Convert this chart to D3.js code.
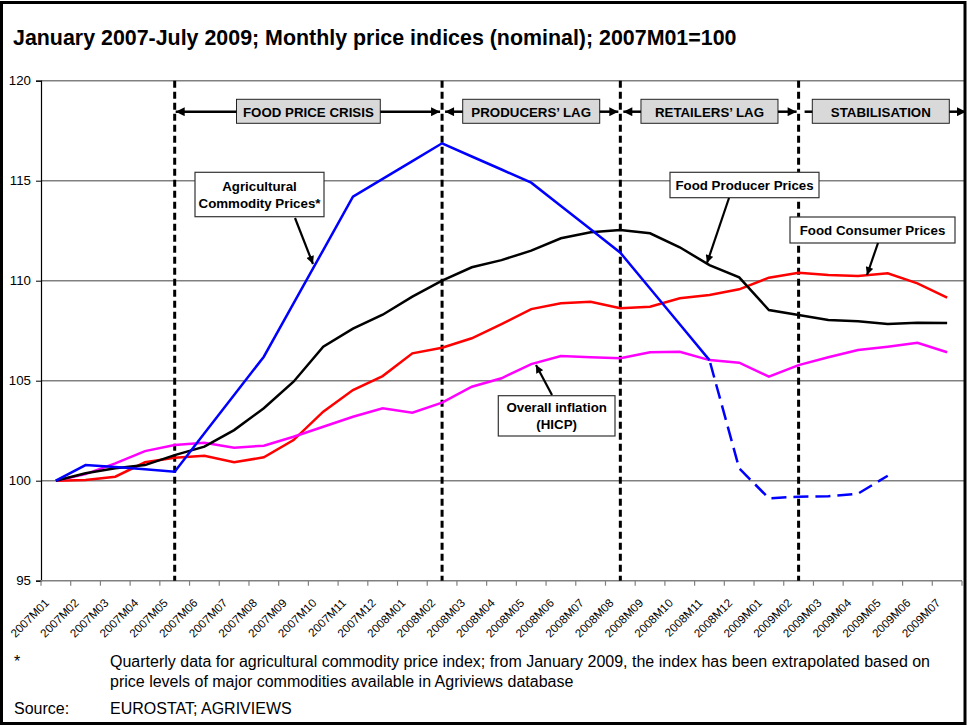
<!DOCTYPE html>
<html>
<head>
<meta charset="utf-8">
<script src="https://cdn.jsdelivr.net/npm/d3@7"></script>
<style>
  body { margin: 0; background: #fff; }
  svg { display: block; font-family: "Liberation Sans", Arial, sans-serif; }
</style>
</head>
<body>
<svg id="chart" width="967" height="726"></svg>
<script>
// Chart data
const months = [
    "2007M01", "2007M02", "2007M03", "2007M04", "2007M05", "2007M06", "2007M07", "2007M08",
    "2007M09", "2007M10", "2007M11", "2007M12", "2008M01", "2008M02", "2008M03", "2008M04",
    "2008M05", "2008M06", "2008M07", "2008M08", "2008M09", "2008M10", "2008M11", "2008M12",
    "2009M01", "2009M02", "2009M03", "2009M04", "2009M05", "2009M06", "2009M07"
];

// Agricultural commodity prices (quarterly, extrapolated from 2009)
const agriPrices = [
    100, 100.78, 100.68, 100.57, 100.45, 102.37, 104.28, 106.2,
    108.87, 111.53, 114.2, 115.09, 115.98, 116.87, 116.21, 115.56,
    114.9, 113.73, 112.57, 111.4, 109.61, 107.82, 106.03, 100.62,
    99.12, 99.2, 99.22, 99.35, 100.25, null, null
];
const agriExtrapolatedFrom = "2008M11";

const producerPrices = [
    100, 100.37, 100.62, 100.78, 101.28, 101.7, 102.53, 103.62,
    104.95, 106.7, 107.6, 108.3, 109.2, 110.0, 110.67, 111.03,
    111.5, 112.12, 112.42, 112.53, 112.37, 111.67, 110.78, 110.17,
    108.53, 108.28, 108.03, 107.97, 107.83, 107.9, 107.88
];

const consumerPrices = [
    100, 100.03, 100.2, 100.92, 101.15, 101.25, 100.92, 101.17,
    102.03, 103.45, 104.53, 105.23, 106.37, 106.65, 107.12, 107.83,
    108.58, 108.87, 108.95, 108.62, 108.7, 109.12, 109.28, 109.57,
    110.15, 110.4, 110.28, 110.23, 110.37, 109.87, 109.15
];

const hicp = [
    100, 100.33, 100.87, 101.48, 101.78, 101.9, 101.65, 101.75,
    102.2, 102.7, 103.2, 103.62, 103.4, 103.9, 104.7, 105.12,
    105.83, 106.23, 106.17, 106.12, 106.42, 106.45, 106.03, 105.9,
    105.2, 105.78, 106.17, 106.53, 106.7, 106.9, 106.42
];

const yTicks = [95, 100, 105, 110, 115, 120];

// Phases: names and the months where the dashed separators sit
const phaseNames = ["FOOD PRICE CRISIS", "PRODUCERS\u2019 LAG", "RETAILERS\u2019 LAG", "STABILISATION"];
const phaseBreaks = ["2007M05", "2008M02", "2008M08", "2009M02"];

const titleText = "January 2007-July 2009; Monthly price indices (nominal); 2007M01=100";
const footnoteLines = [
    "Quarterly data for agricultural commodity price index; from January 2009, the index has been extrapolated based on",
    "price levels of major commodities available in Agriviews database"
];
const sourceText = "EUROSTAT; AGRIVIEWS";

// Set up
const svg = d3.select("#chart");
const width = +svg.attr("width");
const height = +svg.attr("height");

const plotLeft = 41, plotRight = 962, plotTop = 80.7, plotBottom = 580.7;

const x = d3.scaleBand().domain(months).range([plotLeft, plotRight]);
const cx = m => x(m) + x.bandwidth() / 2;
const y = d3.scaleLinear().domain([95, 120]).range([plotBottom, plotTop]);

// arrowhead marker
const defs = svg.append("defs");
defs.append("marker")
    .attr("id", "head")
    .attr("viewBox", "0 0 10 10")
    .attr("refX", 10).attr("refY", 5)
    .attr("markerWidth", 4).attr("markerHeight", 3.6)
    .attr("markerUnits", "strokeWidth")
    .attr("orient", "auto")
    .append("path").attr("d", "M0,0 L10,5 L0,10 Z").attr("fill", "#000");

svg.append("rect")
    .attr("x", 0).attr("y", 0).attr("width", width).attr("height", height)
    .attr("fill", "#fff");

// Title
svg.append("text")
    .attr("x", 13).attr("y", 45)
    .attr("font-size", "21.4px").attr("font-weight", "bold")
    .text(titleText);

// Gridlines
svg.append("g").selectAll("line")
    .data(yTicks.filter(t => t > 95))
    .enter().append("line")
    .attr("x1", plotLeft).attr("x2", plotRight + 3)
    .attr("y1", d => y(d)).attr("y2", d => y(d))
    .attr("stroke", "#808080").attr("stroke-width", 1.5);

// Y axis
const yAxis = svg.append("g")
    .attr("transform", `translate(${plotLeft},0)`)
    .call(d3.axisLeft(y).tickValues(yTicks).tickSize(5).tickPadding(5));
yAxis.select(".domain").attr("stroke", "#000").attr("stroke-width", 1.2);
yAxis.selectAll(".tick line").attr("stroke", "#000");
yAxis.selectAll(".tick text")
    .attr("font-size", "13.3px")
    .attr("font-family", "Liberation Sans, Arial, sans-serif")
    .attr("fill", "#000");

// X axis (ticks at band boundaries)
const xAxisG = svg.append("g");
xAxisG.append("line")
    .attr("x1", plotLeft).attr("x2", plotRight)
    .attr("y1", plotBottom).attr("y2", plotBottom)
    .attr("stroke", "#808080").attr("stroke-width", 1.5);
xAxisG.selectAll(".xtick")
    .data(months.concat(["end"]))
    .enter().append("line")
    .attr("class", "xtick")
    .attr("x1", d => d === "end" ? plotRight : x(d))
    .attr("x2", d => d === "end" ? plotRight : x(d))
    .attr("y1", plotBottom).attr("y2", plotBottom + 5)
    .attr("stroke", "#808080").attr("stroke-width", 1.2);
xAxisG.selectAll(".xlabel")
    .data(months)
    .enter().append("text")
    .attr("class", "xlabel")
    .attr("text-anchor", "end")
    .attr("font-size", "11.7px")
    .attr("transform", d => `translate(${cx(d) - 6},${plotBottom + 23}) rotate(-45)`)
    .text(d => d);

// Phase separators
svg.append("g").selectAll("line")
    .data(phaseBreaks)
    .enter().append("line")
    .attr("x1", d => cx(d)).attr("x2", d => cx(d))
    .attr("y1", plotTop).attr("y2", plotBottom)
    .attr("stroke", "#000").attr("stroke-width", 3)
    .attr("stroke-dasharray", "7,4");

// Phase labels with arrows
const phaseY = 111.7;
const phaseG = svg.append("g");
phaseNames.forEach((name, i) => {
    const left = cx(phaseBreaks[i]);
    const right = i < phaseBreaks.length - 1 ? cx(phaseBreaks[i + 1]) : 967;
    const mid = (left + right) / 2 - (i === 3 ? 2 : 0);
    const t = phaseG.append("text")
        .attr("x", mid).attr("y", phaseY + 4.8)
        .attr("text-anchor", "middle")
        .attr("font-size", "13.3px").attr("font-weight", "bold")
        .text(name);
    const tw = t.node().getComputedTextLength();
    const bw = Math.max(tw + 13, 137);
    const bx = mid - bw / 2;
    phaseG.insert("rect", "text")
        .attr("x", bx).attr("y", 99.3).attr("width", bw).attr("height", 24)
        .attr("fill", "#d9d9d9").attr("stroke", "#222").attr("stroke-width", 1);
    // left arrow
    if (i < 3) {
        phaseG.append("line")
            .attr("x1", bx).attr("x2", left + (i === 0 ? 1 : 3))
            .attr("y1", phaseY).attr("y2", phaseY)
            .attr("stroke", "#000").attr("stroke-width", 2.5)
            .attr("marker-end", "url(#head)");
    } else {
        phaseG.append("line")
            .attr("x1", bx).attr("x2", left + 6)
            .attr("y1", phaseY).attr("y2", phaseY)
            .attr("stroke", "#000").attr("stroke-width", 2.5);
    }
    // right arrow
    phaseG.append("line")
        .attr("x1", bx + bw).attr("x2", i < 3 ? right - 2 : 966)
        .attr("y1", phaseY).attr("y2", phaseY)
        .attr("stroke", "#000").attr("stroke-width", 2.5)
        .attr("marker-end", "url(#head)");
});

// Series lines
const line = d3.line()
    .defined(d => d.v != null)
    .x(d => cx(d.m))
    .y(d => y(d.v));
const toPts = arr => arr.map((v, i) => ({ m: months[i], v }));

const splitIdx = months.indexOf(agriExtrapolatedFrom);
const agriPts = toPts(agriPrices);

const seriesG = svg.append("g");
seriesG.append("path")
    .datum(toPts(consumerPrices))
    .attr("d", line).attr("fill", "none")
    .attr("stroke", "#ff0000").attr("stroke-width", 2.5);
seriesG.append("path")
    .datum(toPts(hicp))
    .attr("d", line).attr("fill", "none")
    .attr("stroke", "#ff00ff").attr("stroke-width", 2.5);
seriesG.append("path")
    .datum(toPts(producerPrices))
    .attr("d", line).attr("fill", "none")
    .attr("stroke", "#000").attr("stroke-width", 2.5);
seriesG.append("path")
    .datum(agriPts.slice(0, splitIdx + 1))
    .attr("d", line).attr("fill", "none")
    .attr("stroke", "#0000ff").attr("stroke-width", 2.5);
seriesG.append("path")
    .datum(agriPts.slice(splitIdx))
    .attr("d", line).attr("fill", "none")
    .attr("stroke", "#0000ff").attr("stroke-width", 2.5)
    .attr("stroke-dasharray", "15,7")
    .attr("stroke-dashoffset", -3);

// Callout boxes
const callouts = [
    { lines: ["Agricultural", "Commodity Prices*"], box: [195, 172.3, 129, 44.4], arrow: [295, 218, 313, 264] },
    { lines: ["Food Producer Prices"], box: [670, 172.3, 149, 25.4], arrow: [729, 198, 707, 263] },
    { lines: ["Food Consumer Prices"], box: [790, 217, 165, 26], arrow: [878, 243, 867, 275] },
    { lines: ["Overall inflation", "(HICP)"], box: [498.3, 395.7, 116.7, 40.3], arrow: [552, 395, 536, 365] }
];
const calloutG = svg.append("g");
callouts.forEach(c => {
    const [bx, by, bw, bh] = c.box;
    calloutG.append("rect")
        .attr("x", bx).attr("y", by).attr("width", bw).attr("height", bh)
        .attr("fill", "#fff").attr("stroke", "#333").attr("stroke-width", 1.2);
    const lh = 17.5;
    const y0 = by + bh / 2 - (c.lines.length - 1) * lh / 2 + 4.8;
    c.lines.forEach((l, j) => {
        calloutG.append("text")
            .attr("x", bx + bw / 2).attr("y", y0 + j * lh)
            .attr("text-anchor", "middle")
            .attr("font-size", "13.3px").attr("font-weight", "bold")
            .text(l);
    });
    calloutG.append("line")
        .attr("x1", c.arrow[0]).attr("y1", c.arrow[1])
        .attr("x2", c.arrow[2]).attr("y2", c.arrow[3])
        .attr("stroke", "#000").attr("stroke-width", 2.2)
        .attr("marker-end", "url(#head)");
});

// Footnotes
const foot = svg.append("g").attr("font-size", "16px");
foot.append("text").attr("x", 14).attr("y", 667).text("*");
footnoteLines.forEach((l, i) => {
    foot.append("text").attr("x", 110).attr("y", 667 + i * 20).text(l);
});
foot.append("text").attr("x", 14).attr("y", 714).text("Source:");
foot.append("text").attr("x", 110).attr("y", 714).text(sourceText);

// Outer frame
svg.append("rect")
    .attr("x", 1.5).attr("y", 2.5).attr("width", 963.5).attr("height", 721)
    .attr("fill", "none").attr("stroke", "#000").attr("stroke-width", 3);
</script>
</body>
</html>
